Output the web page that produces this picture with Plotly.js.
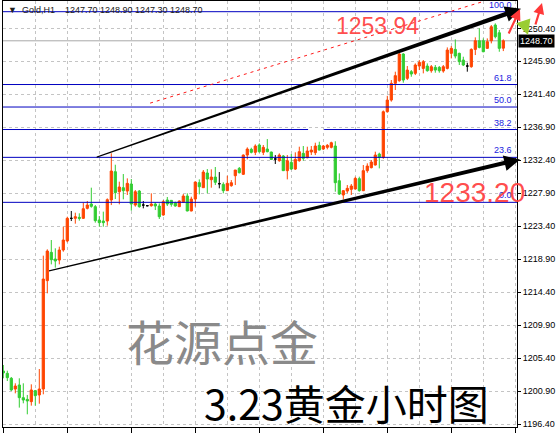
<!DOCTYPE html>
<html>
<head>
<meta charset="utf-8">
<script src="https://cdn.plot.ly/plotly-3.0.1.min.js"></script>
<style>html,body{margin:0;padding:0;background:#fff;}#chart{width:559px;height:433px;}</style>
</head>
<body>
<div id="chart"></div>
<script>
// ---- OHLC data (Gold, H1), one entry per bar ----
const open = [1203.67,1203.35,1202.67,1201.21,1201.76,1200.03,1199.80,1199.49,1200.99,1200.40,
1201.21,1215.99,1219.85,1218.94,1218.80,1220.17,1221.40,1224.49,1224.49,1224.62,
1224.49,1225.85,1226.44,1226.08,1224.26,1224.12,1224.12,1226.99,1230.85,1228.12,
1228.67,1228.21,1229.17,1226.30,1228.21,1226.30,1226.21,1226.21,1226.44,1226.17,
1224.94,1226.99,1226.94,1226.62,1226.08,1226.67,1227.53,1225.49,1227.12,1229.35,
1228.67,1230.67,1229.76,1230.12,1229.21,1229.12,1228.26,1228.94,1230.30,1231.30,
1230.49,1233.12,1233.90,1233.49,1234.49,1233.49,1233.94,1233.53,1232.58,1232.35,
1232.99,1230.99,1232.12,1231.21,1232.35,1233.35,1232.76,1233.53,1233.44,1234.44,
1233.94,1234.17,1234.17,1234.35,1229.62,1227.67,1228.21,1228.44,1228.49,1229.90,
1228.26,1230.99,1231.40,1231.76,1233.26,1232.80,1239.03,1240.62,1242.90,1243.26,
1246.90,1243.58,1244.49,1244.26,1245.26,1244.94,1245.26,1244.62,1245.08,1245.08,
1244.58,1244.94,1246.99,1247.53,1246.99,1246.08,1245.26,1245.17,1247.53,1248.71,
1248.71,1247.67,1248.71,1250.85,1249.80,1247.70];
const high = [1204.49,1203.71,1202.85,1201.99,1202.67,1201.99,1200.40,1201.85,1201.08,1203.94,
1219.40,1220.26,1221.53,1220.40,1220.62,1223.35,1224.71,1225.49,1225.26,1225.17,
1226.62,1226.85,1228.67,1226.30,1224.80,1225.40,1227.21,1233.36,1231.80,1229.49,
1230.53,1229.94,1229.85,1228.35,1228.35,1226.85,1226.30,1227.90,1226.67,1226.53,
1226.99,1227.40,1226.94,1226.76,1226.94,1227.80,1227.90,1227.44,1229.49,1229.80,
1231.08,1231.21,1231.17,1231.49,1230.80,1229.40,1230.30,1229.71,1231.08,1231.49,
1233.21,1234.17,1234.12,1234.58,1234.71,1234.49,1235.30,1233.58,1233.12,1233.35,
1233.12,1233.12,1233.26,1233.49,1234.26,1234.35,1234.26,1234.35,1234.80,1234.94,
1234.49,1234.62,1234.94,1235.00,1230.62,1228.35,1229.03,1229.17,1230.17,1230.17,
1231.76,1231.99,1232.44,1233.58,1233.44,1239.20,1241.20,1243.35,1244.49,1247.08,
1247.00,1245.26,1244.71,1245.62,1246.08,1246.08,1245.62,1245.40,1245.40,1245.26,
1245.40,1247.80,1247.99,1248.90,1247.08,1246.53,1245.71,1247.67,1249.17,1250.40,
1249.03,1249.03,1250.85,1251.08,1250.17,1248.90];
const low = [1202.67,1202.30,1200.94,1200.62,1198.67,1199.26,1197.76,1198.94,1198.94,1199.21,
1200.49,1214.26,1218.21,1217.76,1218.21,1219.94,1221.21,1224.12,1223.76,1224.17,
1224.40,1225.71,1225.94,1223.90,1223.35,1223.35,1223.49,1226.30,1227.12,1226.40,
1227.08,1227.67,1225.53,1226.08,1225.94,1225.85,1226.12,1226.08,1225.62,1224.40,
1224.85,1226.17,1226.08,1226.08,1226.03,1226.58,1225.45,1225.45,1226.08,1227.76,
1228.67,1227.90,1228.67,1229.03,1228.58,1227.90,1228.26,1228.80,1229.03,1230.62,
1230.40,1232.53,1233.35,1233.12,1233.44,1233.12,1233.49,1232.44,1231.90,1232.21,
1230.94,1229.80,1231.08,1231.08,1232.21,1232.35,1232.67,1233.12,1233.12,1233.75,
1233.80,1233.90,1234.03,1228.12,1227.67,1227.08,1227.90,1227.67,1228.44,1228.12,
1228.20,1230.71,1231.30,1231.70,1231.30,1232.60,1238.90,1240.40,1241.99,1243.12,
1242.99,1243.35,1243.80,1244.03,1244.71,1244.26,1244.49,1244.35,1244.35,1244.35,
1244.35,1244.80,1246.30,1246.30,1245.40,1245.26,1244.49,1245.03,1246.76,1247.67,
1247.15,1247.60,1248.35,1249.03,1247.21,1247.30];
const close = [1203.40,1202.76,1201.08,1201.62,1200.03,1199.71,1199.58,1201.08,1200.30,1201.21,
1216.21,1220.03,1218.85,1218.67,1220.17,1221.53,1224.49,1224.49,1224.71,1224.49,
1225.80,1226.30,1226.12,1224.17,1223.90,1223.90,1227.03,1230.94,1227.99,1228.76,
1228.26,1229.26,1226.44,1228.12,1226.08,1226.30,1226.21,1226.44,1226.17,1224.71,
1226.76,1226.44,1226.40,1226.17,1226.85,1227.53,1225.49,1227.12,1229.44,1228.80,
1230.80,1229.85,1230.12,1229.40,1229.21,1228.26,1229.26,1229.35,1231.08,1230.71,
1233.12,1233.94,1233.49,1234.35,1233.58,1234.17,1233.58,1232.53,1232.58,1233.12,
1230.99,1232.35,1231.21,1232.53,1233.58,1232.67,1233.67,1233.80,1234.35,1233.80,
1234.35,1234.44,1234.80,1229.35,1227.80,1228.26,1228.58,1228.90,1229.94,1228.26,
1230.99,1231.62,1232.17,1233.12,1232.80,1239.03,1240.62,1242.90,1243.95,1246.90,
1243.35,1244.71,1244.17,1245.40,1245.76,1245.85,1244.62,1245.17,1244.71,1244.62,
1245.17,1247.44,1247.67,1246.62,1245.85,1245.40,1245.26,1247.53,1248.71,1247.80,
1247.21,1248.58,1250.62,1249.26,1247.67,1248.70];

// header / axis text
const headerText = "▼  Gold,H1    1247.70 1248.90 1247.30 1248.70";
const lastPrice = 1248.70;
const yTickStart = 1196.40, yTickStep = 4.5, yTickCount = 13;
const yTickVals = Array.from({length: yTickCount}, (_, k) => +(yTickStart + k * yTickStep).toFixed(2));
const yTickText = yTickVals.map(v => v.toFixed(2));

// Fibonacci retracement levels (0% and 100% prices)
const fibLow = 1226.67, fibHigh = 1252.67;
const fibLevels = [100.0, 61.8, 50.0, 38.2, 23.6, 0.0];

// drawn trend lines: [barIndex, price]
const upperLine = [[23.35, 1232.85], [128.175, 1252.83]];
const lowerLine = [[11.425, 1217.31], [128.175, 1232.42]];
const redDashLine = [[36.7, 1240.2], [120.2, 1254.1]];

// annotation texts
const markHigh = "1253.94", markLow = "1233.20";
const brandText = "花源点金", titleText = "3.23黄金小时图";

// ---- build ----
const ORANGE = '#ff4500', GREEN = '#32cd32';
const xs = open.map((_, i) => i);
const isDoji = i => open[i] === close[i];
const sel = (arr, f) => arr.filter((_, i) => f(i));
const normal = i => !isDoji(i);

const traces = [
  {
    type: 'candlestick', x: sel(xs, normal), open: sel(open, normal), high: sel(high, normal),
    low: sel(low, normal), close: sel(close, normal),
    increasing: {line: {color: ORANGE, width: 1}, fillcolor: ORANGE},
    decreasing: {line: {color: GREEN, width: 1}, fillcolor: GREEN},
    whiskerwidth: 0, hoverinfo: 'skip', showlegend: false
  },
  {
    type: 'candlestick', x: sel(xs, isDoji), open: sel(open, isDoji), high: sel(high, isDoji),
    low: sel(low, isDoji), close: sel(close, isDoji),
    increasing: {line: {color: '#000', width: 1}, fillcolor: '#000'},
    decreasing: {line: {color: '#000', width: 1}, fillcolor: '#000'},
    whiskerwidth: 0, hoverinfo: 'skip', showlegend: false
  }
];

const yRange = [1196.03, 1254.13];
const plotH = 426;
const ppx = (yRange[1] - yRange[0]) / plotH;   // price per pixel

function taper(line, w0, w1) {
  const [[x0, y0], [x1, y1]] = line;
  const h0 = w0 / 2 * ppx, h1 = w1 / 2 * ppx;
  return {type: 'path', xref: 'x', yref: 'y', layer: 'above',
    path: `M ${x0},${y0 + h0} L ${x1},${y1 + h1} L ${x1},${y1 - h1} L ${x0},${y0 - h0} Z`,
    fillcolor: '#000', line: {width: 0}};
}

const FIB_COLOR = '#0000c0';
const shapes = [];
// current price line
shapes.push({type: 'line', xref: 'paper', x0: 0, x1: 1, yref: 'y', y0: lastPrice, y1: lastPrice,
  line: {color: '#a8a8a8', width: 1}, layer: 'below'});
// fib lines
const fibPrice = L => fibLow + (fibHigh - fibLow) * L / 100;
fibLevels.forEach(L => {
  const p = fibPrice(L);
  if (L === 38.2) {
    shapes.push({type: 'line', xref: 'x', x0: -1, x1: 76.2, yref: 'y', y0: p, y1: p, line: {color: FIB_COLOR, width: 1}});
    shapes.push({type: 'line', xref: 'x', x0: 80.2, x1: 130, yref: 'y', y0: p, y1: p, line: {color: FIB_COLOR, width: 1}});
  } else {
    shapes.push({type: 'line', xref: 'paper', x0: 0, x1: 1, yref: 'y', y0: p, y1: p, line: {color: FIB_COLOR, width: 1}});
  }
});
// red dotted line
shapes.push({type: 'line', xref: 'x', yref: 'y', x0: redDashLine[0][0], y0: redDashLine[0][1],
  x1: redDashLine[1][0], y1: redDashLine[1][1], line: {color: '#ff1a1a', width: 1, dash: '3px,4px'}});
// trend lines (tapered)
shapes.push(taper(upperLine, 1.3, 4.6));
shapes.push(taper(lowerLine, 1.2, 4.4));

const px2paperX = px => (px - 3) / 514;
const px2paperY = py => 1 - (py - 1) / plotH;

const annotations = [];
// header
annotations.push({xref: 'paper', yref: 'paper', x: px2paperX(6), y: px2paperY(10), xanchor: 'left', yanchor: 'middle',
  text: headerText.replace(/ /g, '\u00a0'), showarrow: false, font: {family: 'Liberation Sans, DejaVu Sans', size: 9, color: '#202020'}});
// fib labels
fibLevels.forEach(L => {
  annotations.push({xref: 'paper', yref: 'y', x: px2paperX(514), y: fibPrice(L), xanchor: 'right', yanchor: 'bottom',
    yshift: 0, text: L.toFixed(1), showarrow: false, font: {family: 'Liberation Sans, DejaVu Sans', size: 9, color: '#1a1ae0'}});
});
// last price box
annotations.push({xref: 'paper', yref: 'y', x: 1, xshift: 1, y: lastPrice, xanchor: 'left', yanchor: 'middle',
  text: lastPrice.toFixed(2), showarrow: false, bgcolor: '#000', borderpad: 1,
  font: {family: 'Liberation Sans, DejaVu Sans', size: 9, color: '#fff'}});
// red price marks
annotations.push({xref: 'paper', yref: 'paper', x: px2paperX(377), y: px2paperY(26), xanchor: 'center', yanchor: 'middle',
  text: markHigh, showarrow: false, font: {family: 'Liberation Sans', size: 23, color: 'rgba(255,60,60,0.92)'}});
annotations.push({xref: 'paper', yref: 'paper', x: px2paperX(474.5), y: px2paperY(192.5), xanchor: 'center', yanchor: 'middle',
  text: markLow, showarrow: false, font: {family: 'Liberation Sans', size: 28, color: 'rgba(255,60,60,0.92)'}});
// brand + title
annotations.push({xref: 'paper', yref: 'paper', x: px2paperX(222), y: px2paperY(340), xanchor: 'center', yanchor: 'middle',
  text: brandText, showarrow: false, font: {family: 'Noto Sans CJK SC', size: 48, color: '#8a8a8a'}});
annotations.push({xref: 'paper', yref: 'paper', x: px2paperX(346), y: px2paperY(402), xanchor: 'center', yanchor: 'middle',
  text: titleText, showarrow: false, font: {family: 'Noto Sans CJK SC', size: 41, color: '#000'}});
// arrowheads of trend lines
annotations.push({xref: 'paper', yref: 'paper', x: px2paperX(521), y: px2paperY(8.7), ax: -18, ay: 6.4, text: '',
  showarrow: true, arrowhead: 2, arrowsize: 0.9, arrowwidth: 3.5, arrowcolor: '#000', standoff: 0});
annotations.push({xref: 'paper', yref: 'paper', x: px2paperX(520), y: px2paperY(159.5), ax: -18, ay: 4.3, text: '',
  showarrow: true, arrowhead: 2, arrowsize: 0.9, arrowwidth: 3.5, arrowcolor: '#000', standoff: 0});
// decorative arrows top right
annotations.push({xref: 'paper', yref: 'paper', x: px2paperX(520), y: px2paperY(9), ax: -12, ay: 26, text: '',
  showarrow: true, arrowhead: 2, arrowsize: 1, arrowwidth: 2.2, arrowcolor: '#ff3838', standoff: 0});
annotations.push({xref: 'paper', yref: 'paper', x: px2paperX(542), y: px2paperY(3), ax: -7, ay: 23, text: '',
  showarrow: true, arrowhead: 2, arrowsize: 1, arrowwidth: 2.2, arrowcolor: '#ff3838', standoff: 0});
annotations.push({xref: 'paper', yref: 'paper', x: px2paperX(528), y: px2paperY(35), ax: -5, ay: -15, text: '',
  showarrow: true, arrowhead: 2, arrowsize: 1, arrowwidth: 3, arrowcolor: '#9acd32', standoff: 0});

const layout = {
  width: 559, height: 433,
  margin: {l: 3, r: 42, t: 1, b: 6, pad: 0},
  paper_bgcolor: '#fff', plot_bgcolor: '#fff',
  showlegend: false,
  boxgap: 0.45, boxgroupgap: 0,
  xaxis: {
    type: 'linear', range: [-0.075, 128.425], rangeslider: {visible: false},
    showline: true, mirror: true, linecolor: '#000', linewidth: 1,
    tickmode: 'linear', tick0: 0, dtick: 16, ticks: 'outside', ticklen: 5, tickcolor: '#000',
    showticklabels: false, showgrid: true, gridcolor: '#c4c4c4', griddash: '3px,3px', zeroline: false,
    minor: {tickmode: 'linear', tick0: 0, dtick: 8, showgrid: true, gridcolor: '#c4c4c4', griddash: '3px,3px', ticks: ''}
  },
  yaxis: {
    side: 'right', range: yRange, tickmode: 'array', tickvals: yTickVals, ticktext: yTickText,
    ticks: 'outside', ticklen: 3, tickcolor: '#000',
    showline: true, mirror: true, linecolor: '#000', linewidth: 1,
    showgrid: true, gridcolor: '#c4c4c4', griddash: '3px,3px', zeroline: false,
    tickfont: {family: 'Liberation Sans, DejaVu Sans', size: 9, color: '#000'}
  },
  shapes: shapes,
  annotations: annotations
};

Plotly.newPlot('chart', traces, layout, {staticPlot: true, displayModeBar: false});
</script>
</body>
</html>
